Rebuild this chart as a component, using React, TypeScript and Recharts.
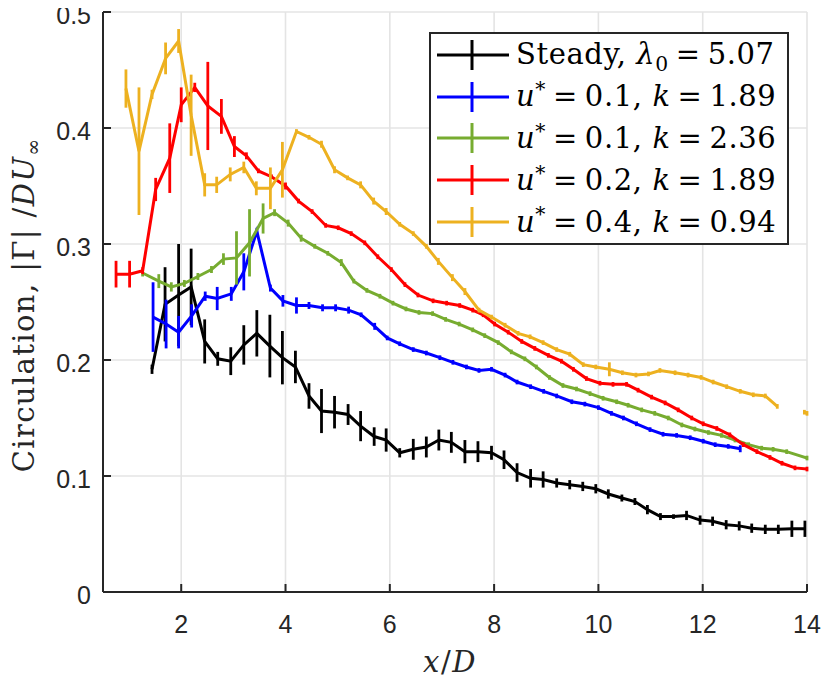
import React from 'react';
import { LineChart, Line, XAxis, YAxis, CartesianGrid, ErrorBar } from 'recharts';

// ---------- axes ----------
const xTicks = [2, 4, 6, 8, 10, 12, 14];
const yTicks = [0, 0.1, 0.2, 0.3, 0.4, 0.5];
const yTickLabels = ['0', '0.1', '0.2', '0.3', '0.4', '0.5'];
const xDomain = [0.5, 14];
const yDomain = [0, 0.5];

// ---------- legend / labels ----------
const steadyWord = 'Steady';
const steadyLambda = '5.07';
const uStarValues = ['0.1', '0.1', '0.2', '0.4'];
const kValues = ['1.89', '2.36', '1.89', '0.94'];
const seriesColors = ['#000000', '#0000ff', '#77ac30', '#ff0000', '#edb120'];
const yLabelWord = 'Circulation, ';

// ---------- Steady ----------
const steadyX = [1.44, 1.69, 1.95, 2.19, 2.45, 2.7, 2.95, 3.2, 3.45, 3.7, 3.94, 4.19, 4.45, 4.69, 4.94, 5.2, 5.44, 5.7, 5.93, 6.19, 6.45, 6.7, 6.94, 7.18, 7.44, 7.69, 7.95, 8.19, 8.44, 8.7, 8.94, 9.2, 9.45, 9.7, 9.95, 10.19, 10.45, 10.7, 10.94, 11.19, 11.44, 11.69, 11.95, 12.19, 12.45, 12.7, 12.94, 13.2, 13.45, 13.71, 13.96];
const steadyY = [0.192, 0.248, 0.256, 0.263, 0.216, 0.201, 0.199, 0.213, 0.223, 0.212, 0.202, 0.194, 0.169, 0.156, 0.155, 0.153, 0.143, 0.134, 0.131, 0.12, 0.123, 0.125, 0.131, 0.129, 0.121, 0.121, 0.12, 0.114, 0.103, 0.098, 0.097, 0.094, 0.0925, 0.091, 0.089, 0.0845, 0.081, 0.078, 0.071, 0.065, 0.065, 0.066, 0.062, 0.061, 0.058, 0.057, 0.055, 0.054, 0.054, 0.0545, 0.0545];
const steadyErr = [0.004, 0.032, 0.044, 0.033, 0.019, 0.006, 0.012, 0.017, 0.02, 0.027, 0.023, 0.014, 0.011, 0.019, 0.014, 0.009, 0.013, 0.008, 0.01, 0.004, 0.009, 0.009, 0.009, 0.009, 0.01, 0.009, 0.006, 0.008, 0.008, 0.008, 0.007, 0.004, 0.004, 0.004, 0.004, 0.004, 0.003, 0.003, 0.004, 0.003, 0.002, 0.004, 0.004, 0.004, 0.004, 0.004, 0.004, 0.004, 0.004, 0.007, 0.007];

// ---------- u* = 0.1, k = 1.89 ----------
const blueX = [1.46, 1.71, 1.95, 2.2, 2.46, 2.69, 2.96, 3.2, 3.45, 3.71, 3.95, 4.21, 4.45, 4.71, 4.96, 5.21, 5.45, 5.71, 5.95, 6.19, 6.45, 6.7, 6.96, 7.21, 7.47, 7.71, 7.95, 8.21, 8.44, 8.7, 8.95, 9.2, 9.49, 9.74, 10.0, 10.25, 10.48, 10.73, 10.99, 11.24, 11.5, 11.76, 12.01, 12.24, 12.49, 12.72];
const blueY = [0.237, 0.231, 0.224, 0.238, 0.255, 0.253, 0.257, 0.276, 0.311, 0.262, 0.251, 0.247, 0.247, 0.245, 0.245, 0.243, 0.239, 0.229, 0.219, 0.214, 0.209, 0.206, 0.202, 0.198, 0.194, 0.191, 0.192, 0.187, 0.181, 0.177, 0.173, 0.169, 0.164, 0.162, 0.159, 0.154, 0.15, 0.145, 0.14, 0.136, 0.135, 0.133, 0.13, 0.127, 0.1255, 0.1235];
const blueErr = [0.03, 0.021, 0.014, 0.01, 0.004, 0.01, 0.006, 0.016, 0.003, 0.003, 0.005, 0.007, 0.003, 0.003, 0.003, 0.003, 0.002, 0.003, 0.002, 0.002, 0.002, 0.002, 0.002, 0.002, 0.002, 0.002, 0.002, 0.002, 0.002, 0.002, 0.002, 0.002, 0.002, 0.002, 0.002, 0.002, 0.002, 0.002, 0.002, 0.002, 0.002, 0.002, 0.002, 0.002, 0.002, 0.003];

// ---------- u* = 0.1, k = 2.36 ----------
const greenX = [1.26, 1.57, 1.81, 2.06, 2.32, 2.58, 2.81, 3.06, 3.31, 3.57, 3.79, 4.05, 4.3, 4.56, 4.81, 5.07, 5.31, 5.56, 5.81, 6.06, 6.31, 6.56, 6.82, 7.07, 7.33, 7.59, 7.82, 8.08, 8.33, 8.59, 8.81, 9.06, 9.32, 9.58, 9.84, 10.09, 10.35, 10.57, 10.83, 11.08, 11.34, 11.6, 11.85, 12.11, 12.36, 12.62, 12.88, 13.13, 13.35, 13.61, 14.0];
const greenY = [0.275, 0.268, 0.263, 0.266, 0.272, 0.278, 0.287, 0.288, 0.301, 0.322, 0.327, 0.318, 0.305, 0.298, 0.292, 0.284, 0.268, 0.26, 0.255, 0.249, 0.244, 0.241, 0.24, 0.235, 0.231, 0.226, 0.221, 0.215, 0.207, 0.201, 0.194, 0.185, 0.178, 0.175, 0.171, 0.167, 0.164, 0.161, 0.157, 0.154, 0.15, 0.144, 0.1405, 0.1375, 0.135, 0.131, 0.127, 0.124, 0.123, 0.121, 0.1155];
const greenErr = [0.003, 0.006, 0.004, 0.003, 0.003, 0.003, 0.005, 0.023, 0.029, 0.013, 0.003, 0.003, 0.003, 0.002, 0.002, 0.003, 0.002, 0.002, 0.002, 0.002, 0.002, 0.002, 0.002, 0.002, 0.002, 0.002, 0.002, 0.002, 0.002, 0.002, 0.002, 0.002, 0.002, 0.002, 0.002, 0.002, 0.002, 0.002, 0.002, 0.002, 0.002, 0.002, 0.002, 0.002, 0.002, 0.002, 0.002, 0.002, 0.002, 0.002, 0.002];

// ---------- u* = 0.2, k = 1.89 ----------
const redX = [0.75, 1.01, 1.26, 1.51, 1.78, 2.0, 2.26, 2.51, 2.77, 3.02, 3.25, 3.48, 3.73, 4.0, 4.25, 4.51, 4.77, 5.01, 5.26, 5.52, 5.77, 6.03, 6.29, 6.54, 6.83, 7.09, 7.34, 7.59, 7.79, 8.01, 8.27, 8.53, 8.78, 9.04, 9.29, 9.52, 9.77, 10.03, 10.28, 10.54, 10.76, 11.02, 11.28, 11.53, 11.79, 12.01, 12.27, 12.52, 12.78, 13.04, 13.29, 13.52, 13.77, 14.0];
const redY = [0.274, 0.274, 0.277, 0.347, 0.374, 0.42, 0.435, 0.419, 0.41, 0.384, 0.376, 0.363, 0.358, 0.35, 0.337, 0.328, 0.316, 0.314, 0.309, 0.301, 0.289, 0.278, 0.265, 0.256, 0.251, 0.249, 0.247, 0.243, 0.239, 0.231, 0.224, 0.216, 0.21, 0.204, 0.199, 0.192, 0.184, 0.18, 0.179, 0.179, 0.174, 0.168, 0.163, 0.157, 0.15, 0.145, 0.141, 0.1355, 0.127, 0.121, 0.116, 0.111, 0.107, 0.106];
const redErr = [0.0115, 0.0115, 0.003, 0.01, 0.03, 0.015, 0.004, 0.038, 0.015, 0.009, 0.003, 0.002, 0.002, 0.003, 0.002, 0.002, 0.002, 0.002, 0.002, 0.002, 0.002, 0.002, 0.002, 0.002, 0.002, 0.002, 0.002, 0.002, 0.002, 0.002, 0.002, 0.002, 0.002, 0.002, 0.002, 0.002, 0.002, 0.002, 0.002, 0.002, 0.002, 0.002, 0.002, 0.002, 0.002, 0.002, 0.002, 0.002, 0.002, 0.002, 0.002, 0.002, 0.002, 0.002];

// ---------- u* = 0.4, k = 0.94 ----------
const yellowX = [0.94, 1.19, 1.44, 1.7, 1.95, 2.19, 2.45, 2.68, 2.94, 3.2, 3.44, 3.71, 3.94, 4.21, 4.45, 4.69, 4.94, 5.19, 5.44, 5.69, 5.93, 6.19, 6.45, 6.7, 6.93, 7.2, 7.44, 7.71, 7.95, 8.21, 8.46, 8.69, 8.94, 9.2, 9.45, 9.71, 9.95, 10.21, 10.46, 10.72, 10.96, 11.18, 11.47, 11.72, 11.97, 12.2, 12.46, 12.72, 12.97, 13.2, 13.43];
const yellowY = [0.434, 0.38, 0.429, 0.46, 0.475, 0.411, 0.351, 0.351, 0.36, 0.366, 0.348, 0.348, 0.364, 0.397, 0.392, 0.386, 0.364, 0.357, 0.351, 0.337, 0.328, 0.317, 0.309, 0.298, 0.285, 0.271, 0.259, 0.243, 0.237, 0.23, 0.223, 0.22, 0.215, 0.209, 0.205, 0.196, 0.194, 0.192, 0.189, 0.187, 0.188, 0.191, 0.189, 0.187, 0.185, 0.181, 0.177, 0.173, 0.17, 0.169, 0.16];
const yellowErr = [0.0165, 0.055, 0.004, 0.0137, 0.0103, 0.035, 0.01, 0.007, 0.006, 0.005, 0.006, 0.018, 0.024, 0.002, 0.002, 0.003, 0.003, 0.002, 0.003, 0.003, 0.003, 0.002, 0.002, 0.002, 0.003, 0.003, 0.003, 0.002, 0.002, 0.002, 0.002, 0.002, 0.002, 0.002, 0.002, 0.002, 0.002, 0.006, 0.002, 0.002, 0.002, 0.002, 0.002, 0.002, 0.002, 0.002, 0.002, 0.002, 0.002, 0.002, 0.002];
const yellowTailX = [13.95, 14.0];
const yellowTailY = [0.155, 0.154];
const yellowTailErr = [0.002, 0.002];

type Row = { x: number; y: number; e: number };
const toRows = (xs: number[], ys: number[], es: number[]): Row[] =>
  xs.map((x, i) => ({ x, y: ys[i], e: es[i] }));

const seriesRows: Row[][] = [
  toRows(steadyX, steadyY, steadyErr),
  toRows(blueX, blueY, blueErr),
  toRows(greenX, greenY, greenErr),
  toRows(redX, redY, redErr),
  toRows(yellowX, yellowY, yellowErr),
  toRows(yellowTailX, yellowTailY, yellowTailErr),
];
const seriesColorIdx = [0, 1, 2, 3, 4, 4];

const AXIS = '#262626';
const SERIF = '"DejaVu Serif", serif';
const SANS = '"Liberation Sans", Arial, sans-serif';

const YLabel = () => (
  <text
    transform="translate(34,305) rotate(-90)"
    textAnchor="middle"
    fontFamily={SERIF}
    fontSize={29}
    letterSpacing={1.4}
    fill={AXIS}
  >
    <tspan>{yLabelWord}</tspan>
    <tspan>|Γ| /</tspan>
    <tspan fontStyle="italic">DU</tspan>
    <tspan fontSize={20} dy={6}>∞</tspan>
  </text>
);

const XLabel = () => (
  <text x={450} y={672} textAnchor="middle" fontFamily={SERIF} fontSize={29} letterSpacing={1.5} fill={AXIS}>
    <tspan fontStyle="italic">x</tspan>
    <tspan>/</tspan>
    <tspan fontStyle="italic">D</tspan>
  </text>
);

const Sample = ({ color }: { color: string }) => (
  <svg width={72} height={32} style={{ display: 'block', flex: 'none' }}>
    <line x1={0} y1={16} x2={72} y2={16} stroke={color} strokeWidth={3} />
    <line x1={35} y1={1} x2={35} y2={31} stroke={color} strokeWidth={3} />
  </svg>
);

const Eq = () => <span style={{ margin: '0 0.24em' }}>=</span>;

const legendLabel = (i: number) => {
  if (i === 0) {
    return (
      <span>
        {steadyWord}, <i>λ</i>
        <span style={{ fontSize: '0.7em', position: 'relative', top: '0.32em' }}>0</span>
        <Eq />
        {steadyLambda}
      </span>
    );
  }
  return (
    <span>
      <i>u</i>
      <span style={{ fontSize: '0.7em', position: 'relative', top: '-0.5em' }}>*</span>
      <Eq />
      {uStarValues[i - 1]}, <i>k</i>
      <Eq />
      {kValues[i - 1]}
    </span>
  );
};

const Legend = () => (
  <div
    style={{
      position: 'absolute',
      left: 429,
      top: 32,
      width: 360,
      height: 213,
      boxSizing: 'border-box',
      border: `2px solid ${AXIS}`,
      background: '#ffffff',
    }}
  >
    {seriesColors.map((c, i) => (
      <div
        key={i}
        style={{
          height: 41.8,
          display: 'flex',
          alignItems: 'center',
          paddingLeft: 6,
          fontFamily: SERIF,
          fontSize: 29,
          letterSpacing: 0.6,
          lineHeight: 1,
          color: '#000',
          whiteSpace: 'nowrap',
        }}
      >
        <Sample color={c} />
        <div style={{ marginLeft: 7 }}>{legendLabel(i)}</div>
      </div>
    ))}
  </div>
);

export default function App() {
  return (
    <div style={{ position: 'relative', width: 822, height: 680, marginTop: -8, marginLeft: -8, fontFamily: SANS }}>
      <LineChart
        width={822}
        height={680}
        margin={{ top: 12, right: 15, bottom: 0, left: 0 }}
      >
        <CartesianGrid stroke="#e4e4e4" strokeWidth={1.6} />
        <XAxis
          type="number"
          dataKey="x"
          domain={xDomain}
          ticks={xTicks}
          interval={0}
          allowDataOverflow
          height={88}
          tickSize={-8}
          tickMargin={31}
          axisLine={{ stroke: AXIS, strokeWidth: 2 }}
          tickLine={{ stroke: AXIS, strokeWidth: 2 }}
          tick={{ fill: AXIS, fontSize: 25, fontFamily: SANS }}
          label={<XLabel />}
        />
        <YAxis
          type="number"
          domain={yDomain}
          ticks={yTicks}
          interval={0}
          allowDataOverflow
          width={103}
          tickSize={-8}
          tickMargin={20}
          tickFormatter={(v: number) => yTickLabels[yTicks.indexOf(v)] ?? String(v)}
          axisLine={{ stroke: AXIS, strokeWidth: 2 }}
          tickLine={{ stroke: AXIS, strokeWidth: 2 }}
          tick={{ fill: AXIS, fontSize: 25, fontFamily: SANS, dy: 3 }}
          label={<YLabel />}
        />
        {seriesRows.map((rows, i) => {
          const color = seriesColors[seriesColorIdx[i]];
          return (
            <Line
              key={i}
              data={rows}
              dataKey="y"
              type="linear"
              stroke={color}
              strokeWidth={3}
              dot={false}
              activeDot={false}
              isAnimationActive={false}
            >
              <ErrorBar dataKey="e" direction="y" width={0} stroke={color} strokeWidth={2.8} isAnimationActive={false} />
            </Line>
          );
        })}
      </LineChart>
      <Legend />
    </div>
  );
}
